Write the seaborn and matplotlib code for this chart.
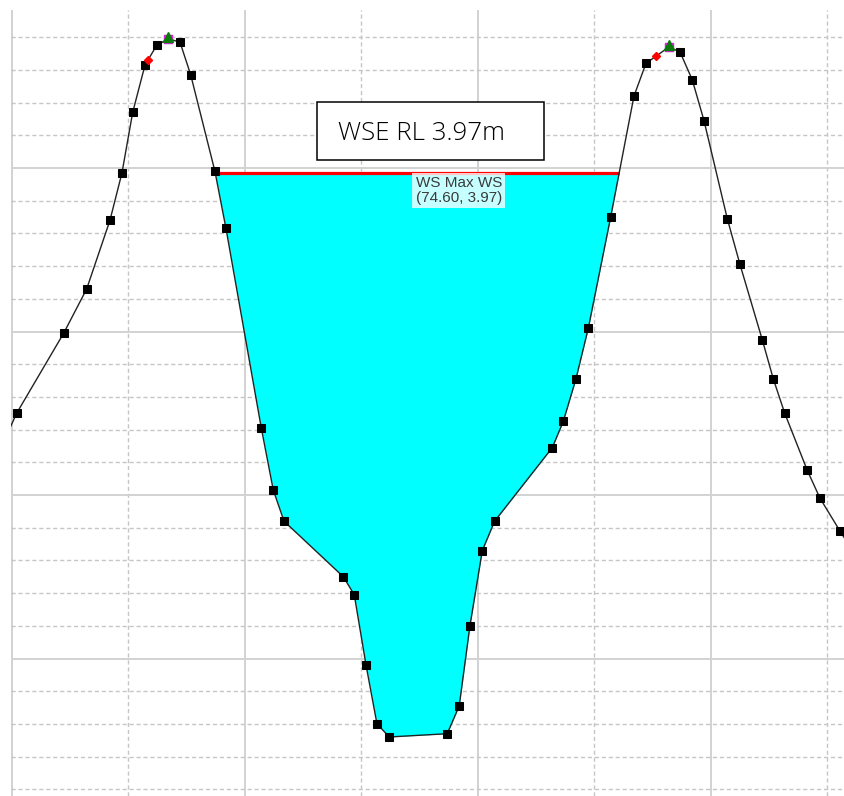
import numpy as np
import pandas as pd
import matplotlib
matplotlib.use("Agg")
import matplotlib.pyplot as plt
import seaborn as sns
from matplotlib.patches import Rectangle

# Ground profile of the cross section (station m, elevation m RL)
station = [39.00, 40.40, 44.44, 46.41, 48.41, 49.44, 50.36, 51.42, 52.42, 53.42, 54.42, 55.34,
           57.42, 58.37, 61.40, 62.43, 63.35, 68.44, 69.38, 70.39, 71.33, 72.39, 77.36, 78.39,
           79.31, 80.37, 81.43, 86.38, 87.32, 88.41, 89.47, 91.39, 93.39, 94.42, 96.39, 97.34,
           98.39, 99.40, 101.40, 102.49, 104.40, 105.35, 106.33, 108.27, 109.36, 111.07, 112.50]
elevation = [2.28, 2.50, 2.99, 3.26, 3.68, 3.97, 4.34, 4.63, 4.75, 4.79, 4.77, 4.57,
             3.98, 3.63, 2.41, 2.03, 1.84, 1.50, 1.39, 0.96, 0.60, 0.52, 0.54, 0.71,
             1.20, 1.66, 1.84, 2.29, 2.45, 2.71, 3.02, 3.70, 4.44, 4.64, 4.74, 4.71,
             4.54, 4.29, 3.69, 3.41, 2.95, 2.71, 2.50, 2.15, 1.98, 1.78, 1.62]

bank_stations = [51.70, 95.25]      # left / right bank stations
levee_stations = [53.42, 96.39]     # levee crests
ws_elev = 3.97                      # maximum water surface
ws_label_station = 74.60
annotation = "WSE RL 3.97m"

df = pd.DataFrame({"Station": station, "Elevation": elevation})
sta = df["Station"].to_numpy()
elv = df["Elevation"].to_numpy()

sns.set_style("white")
fig = plt.figure(figsize=(8.45, 7.96), dpi=100)
ax = fig.add_axes([11.4 / 845, 0.0, (845 - 11.4) / 845, 786 / 796])

# channel between the levees holds water
in_channel = (sta >= levee_stations[0]) & (sta <= levee_stations[1])
wet = in_channel & (elv < ws_elev)
ax.fill_between(sta, elv, ws_elev, where=wet, interpolate=True,
                color="#00ffff", linewidth=0, zorder=2)

# water surface edges where it meets the banks
i_l = np.where(wet)[0][0]
i_r = np.where(wet)[0][-1]
x_left = np.interp(ws_elev, [elv[i_l], elv[i_l - 1]], [sta[i_l], sta[i_l - 1]])
x_right = np.interp(ws_elev, [elv[i_r], elv[i_r + 1]], [sta[i_r], sta[i_r + 1]])
ax.plot([x_left, x_right], [ws_elev, ws_elev], color="#ff0000", lw=2.3,
        solid_capstyle="butt", zorder=4)

# ground line with survey points
sns.lineplot(data=df, x="Station", y="Elevation", sort=False, estimator=None,
             color="#222222", lw=1.0, marker="s", markersize=5.2,
             markerfacecolor="black", markeredgecolor="black", ax=ax, zorder=5)

# bank stations and levees
bank_elev = np.interp(bank_stations, sta, elv)
ax.plot(bank_stations, bank_elev, ls="none", marker="D", markersize=4.2,
        color="#ff0000", zorder=6)
levee_elev = np.interp(levee_stations, sta, elv)
ax.plot(levee_stations, levee_elev, ls="none", marker="s", markersize=5.6,
        color="#e020e0", zorder=6)
ax.plot(levee_stations, np.array(levee_elev) + 0.012, ls="none", marker="^",
        markersize=7.5, color="#0a7a0a", zorder=7)

# water surface tooltip
ax.text(ws_label_station + 0.05, ws_elev - 0.02,
        f"WS Max WS\n({ws_label_station:.2f}, {ws_elev:.2f})",
        ha="left", va="top", fontsize=11, family="Liberation Sans", color="#3a3a3a",
        linespacing=1.08,
        bbox=dict(boxstyle="square,pad=0.22", facecolor="white", edgecolor="none", alpha=0.78),
        zorder=8)

# grid
ax.set_xlim(39.95, 39.95 + (845 - 11.4) / 11.65)
ax.set_ylim(4 - (796 - 168) / 163.5, 4 + 158 / 163.5)
ax.set_xticks([40, 60, 80, 100])
ax.set_xticks([50, 70, 90, 110], minor=True)
ax.set_yticks([1, 2, 3, 4])
ax.set_yticks([round(0.2 * k, 1) for k in range(1, 25) if k % 5], minor=True)
ax.grid(which="major", color="#d2d2d2", lw=1.4, ls="-", zorder=0)
ax.grid(which="minor", color="#c6c6c6", lw=1.0, ls=(0, (3, 2)), zorder=0)
ax.set_axisbelow(True)
ax.tick_params(which="both", length=0, labelbottom=False, labelleft=False)
ax.set_xlabel("")
ax.set_ylabel("")
for s in ax.spines.values():
    s.set_visible(False)

# annotation box
fig.patches.append(Rectangle((317 / 845, 1 - 159.5 / 796), 227 / 845, 57 / 796,
                             transform=fig.transFigure, facecolor="white",
                             edgecolor="black", lw=1.1, zorder=10))
fig.text(338 / 845, 1 - 140 / 796, annotation, ha="left", va="baseline",
         fontsize=18.6, family="Open Sans", fontweight="light", color="black", zorder=11)

fig.savefig("out.png", dpi=100)
